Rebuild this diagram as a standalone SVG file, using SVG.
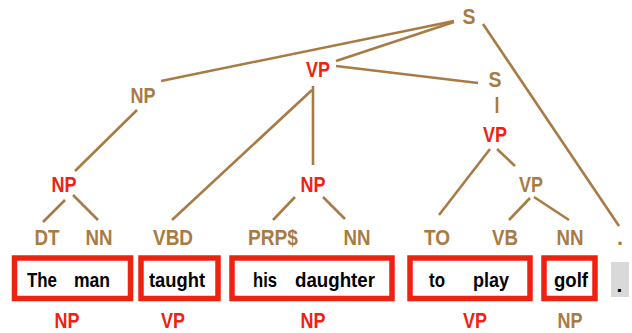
<svg xmlns="http://www.w3.org/2000/svg" width="632" height="333" viewBox="0 0 632 333">
<style>
.lbl{font-family:"Liberation Sans",Arial,sans-serif;font-weight:bold;font-size:22px;text-anchor:middle}
.br{fill:#A87B45}
.rd{fill:#EE2211}
.w{font-family:"Liberation Sans",Arial,sans-serif;font-weight:bold;font-size:21px;fill:#000}
.box{fill:#fff;stroke:#EE2211;stroke-width:5.5}
.edge{stroke:#A87B45;stroke-width:2.6;stroke-linecap:butt;fill:none}
</style>
<rect width="632" height="333" fill="#fff"/>
<g id="connectors">
<line class="edge" x1="454" y1="21" x2="161" y2="81"/>
<line class="edge" x1="454" y1="22" x2="336" y2="61"/>
<line class="edge" x1="483" y1="24" x2="619" y2="226"/>
<line class="edge" x1="336" y1="66" x2="478" y2="83"/>
<line class="edge" x1="497" y1="97" x2="497" y2="113"/>
<line class="edge" x1="490" y1="149" x2="439" y2="215"/>
<line class="edge" x1="497" y1="149" x2="515" y2="166"/>
<line class="edge" x1="530" y1="198" x2="509" y2="220"/>
<line class="edge" x1="534" y1="197" x2="569" y2="220"/>
<line class="edge" x1="313" y1="86" x2="313" y2="165"/>
<line class="edge" x1="312" y1="90" x2="172" y2="220"/>
<line class="edge" x1="137" y1="110" x2="75" y2="171"/>
<line class="edge" x1="65" y1="200" x2="43" y2="222"/>
<line class="edge" x1="73" y1="195" x2="98" y2="220"/>
<line class="edge" x1="295" y1="197" x2="273" y2="220"/>
<line class="edge" x1="323" y1="197" x2="345" y2="219"/>
</g>
<g id="S"><text class="lbl br" x="469" y="24" textLength="13" lengthAdjust="spacingAndGlyphs">S</text></g>
<g id="NP1"><text class="lbl br" x="143" y="103" textLength="25" lengthAdjust="spacingAndGlyphs">NP</text></g>
<g id="VP1"><text class="lbl rd" x="318" y="77" textLength="24" lengthAdjust="spacingAndGlyphs">VP</text></g>
<g id="S2"><text class="lbl br" x="495" y="87" textLength="13" lengthAdjust="spacingAndGlyphs">S</text></g>
<g id="VP2"><text class="lbl rd" x="495" y="142" textLength="24" lengthAdjust="spacingAndGlyphs">VP</text></g>
<g id="NP2"><text class="lbl rd" x="64" y="192" textLength="25" lengthAdjust="spacingAndGlyphs">NP</text></g>
<g id="NP3"><text class="lbl rd" x="313" y="192" textLength="25" lengthAdjust="spacingAndGlyphs">NP</text></g>
<g id="VP3"><text class="lbl br" x="531" y="192" textLength="24" lengthAdjust="spacingAndGlyphs">VP</text></g>
<g id="DT"><text class="lbl br" x="47" y="245" textLength="25" lengthAdjust="spacingAndGlyphs">DT</text></g>
<g id="NN1"><text class="lbl br" x="99" y="245" textLength="27" lengthAdjust="spacingAndGlyphs">NN</text></g>
<g id="VBD"><text class="lbl br" x="173" y="245" textLength="40" lengthAdjust="spacingAndGlyphs">VBD</text></g>
<g id="PRP"><text class="lbl br" x="273" y="245" textLength="50" lengthAdjust="spacingAndGlyphs">PRP$</text></g>
<g id="NN2"><text class="lbl br" x="357" y="245" textLength="27" lengthAdjust="spacingAndGlyphs">NN</text></g>
<g id="TO"><text class="lbl br" x="437" y="245" textLength="26" lengthAdjust="spacingAndGlyphs">TO</text></g>
<g id="VB"><text class="lbl br" x="505" y="245" textLength="26" lengthAdjust="spacingAndGlyphs">VB</text></g>
<g id="NN3"><text class="lbl br" x="570" y="245" textLength="27" lengthAdjust="spacingAndGlyphs">NN</text></g>
<g id="PUNCT"><text class="lbl br" x="620" y="245">.</text></g>
<g id="box1">
<rect class="box" x="14.5" y="258" width="116" height="40.5"/>
<text class="w" x="27" y="287" textLength="30" lengthAdjust="spacingAndGlyphs">The</text>
<text class="w" x="74" y="287" textLength="36" lengthAdjust="spacingAndGlyphs">man</text>
</g>
<g id="box2">
<rect class="box" x="141" y="258" width="77" height="40.5"/>
<text class="w" x="149" y="287" textLength="56" lengthAdjust="spacingAndGlyphs">taught</text>
</g>
<g id="box3">
<rect class="box" x="232" y="258" width="160" height="40.5"/>
<text class="w" x="253" y="287" textLength="24" lengthAdjust="spacingAndGlyphs">his</text>
<text class="w" x="295" y="287" textLength="80" lengthAdjust="spacingAndGlyphs">daughter</text>
</g>
<g id="box4">
<rect class="box" x="410" y="258" width="120" height="40.5"/>
<text class="w" x="429" y="287" textLength="16" lengthAdjust="spacingAndGlyphs">to</text>
<text class="w" x="473" y="287" textLength="36" lengthAdjust="spacingAndGlyphs">play</text>
</g>
<g id="box5">
<rect class="box" x="544" y="258" width="51" height="40.5"/>
<text class="w" x="554" y="287" textLength="34" lengthAdjust="spacingAndGlyphs">golf</text>
</g>
<g id="box6">
<rect x="611" y="262" width="18" height="35" fill="#D9D9D9"/>
<text class="w" x="616.5" y="292">.</text>
</g>
<g id="chunks">
<text class="lbl rd" x="67" y="328" textLength="25" lengthAdjust="spacingAndGlyphs">NP</text>
<text class="lbl rd" x="173" y="328" textLength="24" lengthAdjust="spacingAndGlyphs">VP</text>
<text class="lbl rd" x="313" y="328" textLength="25" lengthAdjust="spacingAndGlyphs">NP</text>
<text class="lbl rd" x="475" y="328" textLength="24" lengthAdjust="spacingAndGlyphs">VP</text>
<text class="lbl br" x="570" y="328" textLength="25" lengthAdjust="spacingAndGlyphs">NP</text>
</g>
</svg>
